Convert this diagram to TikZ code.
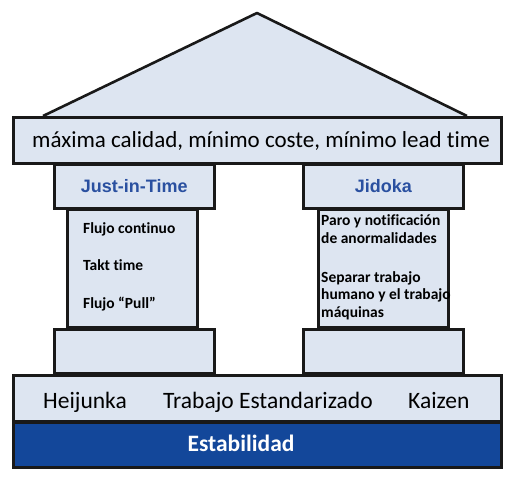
\documentclass[tikz,border=0pt]{standalone}
\usepackage{fontspec}
\setmainfont[Ligatures={NoCommon}]{Carlito}
\newfontfamily\arialf{Liberation Sans}
\definecolor{fillblue}{HTML}{DDE5F1}
\definecolor{darkband}{HTML}{13479A}
\definecolor{titleblue}{HTML}{2A50A0}
\begin{document}
\begin{tikzpicture}[x=1pt,y=-1pt,
  part/.style={draw=black!90,line width=2.6pt,fill=fillblue},
  ttl/.style={font=\arialf\bfseries\fontsize{18}{21}\selectfont,text=titleblue},
  small/.style={font=\bfseries\fontsize{15.5}{19}\selectfont,anchor=base west,inner sep=0pt},
  big/.style={font=\fontsize{23.5}{27}\selectfont,inner sep=0pt}]
\useasboundingbox (0,0) rectangle (515,480);
% roof
\draw[part,line join=round] (43,116) -- (257,13) -- (467,116);
% beam
\node[part,minimum width=488pt,minimum height=46pt,anchor=north west,inner sep=0pt] (beam) at (12,116) {};
\node[big,font=\fontsize{23}{27}\selectfont,anchor=base] (beamtext) at (261,147) {máxima calidad, mínimo coste, mínimo lead time};
% pillars
\node[part,minimum width=160pt,minimum height=44pt,anchor=north west,inner sep=0pt] (jitcap) at (53,163) {};
\node[ttl] at (jitcap.center) {Just-in-Time};
\node[part,minimum width=130pt,minimum height=118pt,anchor=north west,inner sep=0pt] (jitshaft) at (66,208) {};
\node[part,minimum width=160pt,minimum height=44pt,anchor=north west,inner sep=0pt] (jitbase) at (53,328) {};
\node[part,minimum width=160pt,minimum height=44pt,anchor=north west,inner sep=0pt] (jidcap) at (302,163) {};
\node[ttl] at (jidcap.center) {Jidoka};
\node[part,minimum width=130pt,minimum height=118pt,anchor=north west,inner sep=0pt] (jidshaft) at (317,208) {};
\node[part,minimum width=160pt,minimum height=44pt,anchor=north west,inner sep=0pt] (jidbase) at (302,328) {};
% shaft texts
\node[small] (t1) at (83,233) {Flujo continuo};
\node[small] (t2) at (83,270) {Takt time};
\node[small] (t3) at (83,308) {Flujo “Pull”};
\node[small] (j1) at (321,225) {Paro y notificación};
\node[small] (j2) at (321,243) {de anormalidades};
\node[small] (j3) at (321,282) {Separar trabajo};
\node[small] (j4) at (321,299) {humano y el trabajo};
\node[small] (j5) at (321,317) {máquinas};
% foundation
\node[part,minimum width=488pt,minimum height=46pt,anchor=north west,inner sep=0pt] (found) at (12,374) {};
\node[big,anchor=base west] (h1) at (43,408) {Heijunka};
\node[big,anchor=base west] (h2) at (163,408) {Trabajo Estandarizado};
\node[big,anchor=base west] (h3) at (408,408) {Kaizen};
\node[draw=black!90,line width=2.6pt,fill=darkband,minimum width=488pt,minimum height=45pt,anchor=north west,inner sep=0pt] (stab) at (12,421) {};
\node[big,font=\bfseries\fontsize{23.5}{27}\selectfont,text=white,anchor=base] at (241,451) {Estabilidad};
\end{tikzpicture}
\end{document}
